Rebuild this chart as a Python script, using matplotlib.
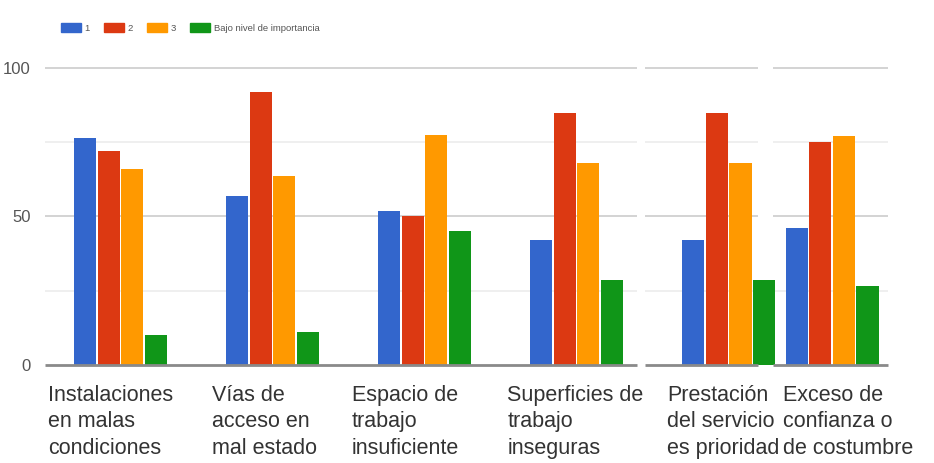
import matplotlib
matplotlib.use("Agg")
import matplotlib.pyplot as plt
import matplotlib.transforms as mtransforms
from matplotlib.patches import Patch

categories = [
    "Instalaciones\nen malas\ncondiciones",
    "Vías de\nacceso en\nmal estado",
    "Espacio de\ntrabajo\ninsuficiente",
    "Superficies de\ntrabajo\ninseguras",
    "Prestación\ndel servicio\nes prioridad",
    "Exceso de\nconfianza o\nde costumbre",
]
series_names = ["1", "2", "3", "Bajo nivel de importancia"]
serie_1 = [76.5, 57, 52, 42, 42, 46]
serie_2 = [72, 92, 50, 85, 85, 75]
serie_3 = [66, 63.5, 77.5, 68, 68, 77]
serie_bajo = [10, 11, 45, 28.5, 28.5, 26.5]
y_ticks = [0, 50, 100]

colors = ["#3366CC", "#DC3912", "#FF9900", "#109618"]
# the last group sits closer in the reference
group_x = [0, 1, 2, 3, 4, 4.68]
label_dx = [-0.477, -0.398, -0.477, -0.457, -0.405, -0.321]

plt.rcParams["font.family"] = ["Liberation Sans", "DejaVu Sans"]

fig = plt.figure(figsize=(9.34, 4.63), dpi=100)
ax = fig.add_axes([0.048, 0.2117, 0.903, 0.6415])
ax.set_xlim(-0.497, 5.049)
ax.set_ylim(0, 100)

# grid lines with small gaps like the spliced original
segments = [(-0.497, 3.40), (3.45, 4.19), (4.29, 5.049)]
for y in [25, 50, 75, 100]:
    c = "#cccccc" if y in (50, 100) else "#ececec"
    for a, b in segments:
        ax.hlines(y, a, b, colors=c, linewidth=1.2, zorder=0, clip_on=False)

width = 0.145
pitch = 0.155
all_series = [serie_1, serie_2, serie_3, serie_bajo]
for i, vals in enumerate(all_series):
    xs = [g + (i - 1.5) * pitch for g in group_x]
    ax.bar(xs, vals, width=width, color=colors[i], zorder=2, label=series_names[i])

for a, b in segments:
    ax.hlines(0, a, b, colors="#8a8a8a", linewidth=2, zorder=3, clip_on=False)

for s in ax.spines.values():
    s.set_visible(False)
ax.set_xticks([])
ax.set_yticks(y_ticks)
ax.set_yticklabels([str(t) for t in y_ticks], fontsize=12, color="#555555")
ax.tick_params(axis="y", length=0, pad=10)

trans = mtransforms.blended_transform_factory(ax.transData, ax.transAxes)
for g, dx, lab in zip(group_x, label_dx, categories):
    ax.text(g + dx, -0.068, lab, transform=trans, ha="left", va="top",
            fontsize=15.5, color="#333333", linespacing=1.33)

handles = [Patch(color=c) for c in colors]
fig.legend(handles, series_names, loc="upper left", bbox_to_anchor=(0.056, 0.968),
           ncol=4, frameon=False, fontsize=6.8, handlelength=2.1, handleheight=1.1,
           handletextpad=0.4, columnspacing=1.5, labelcolor="#555555")

fig.savefig("out.png", dpi=100)
